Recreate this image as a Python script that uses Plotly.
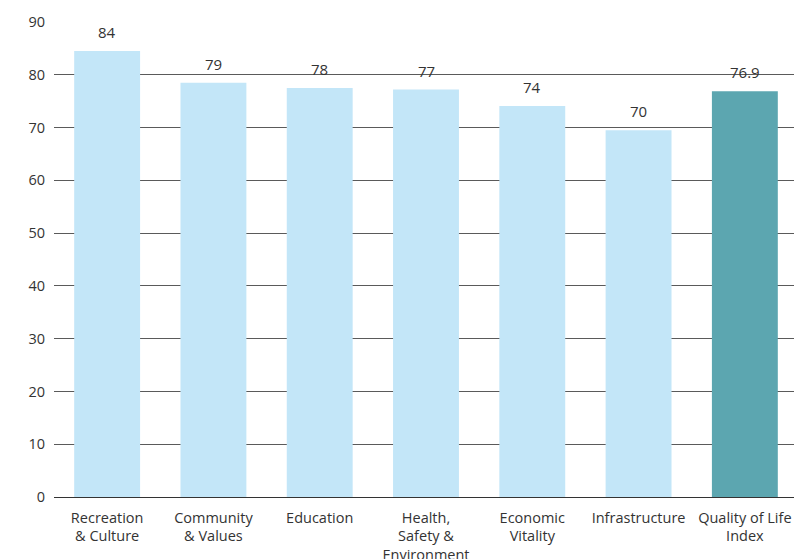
import plotly.graph_objects as go

categories = ["Recreation<br>& Culture", "Community<br>& Values", "Education",
              "Health,<br>Safety &<br>Environment", "Economic<br>Vitality",
              "Infrastructure", "Quality of Life<br>Index"]
values = [84.5, 78.5, 77.5, 77.2, 74.1, 69.5, 76.9]
value_labels = ["84", "79", "78", "77", "74", "70", "76.9"]
colors = ["#c3e6f8"] * 6 + ["#5ca6b0"]

fig = go.Figure(go.Bar(
    x=categories, y=values, cliponaxis=False,
    marker=dict(color=colors, line=dict(width=0)),
    hovertemplate="%{x}: %{y}<extra></extra>",
))
for c, v, t in zip(categories, values, value_labels):
    fig.add_annotation(x=c, y=v, text=t, showarrow=False, yanchor="middle",
                       yshift=19, font=dict(size=15, color="#333333"))
fig.update_layout(
    width=794, height=551,
    margin=dict(l=46, r=4, t=14, b=62, autoexpand=False),
    plot_bgcolor="white", paper_bgcolor="white",
    font=dict(family="Open Sans", size=14, color="#333333"),
    bargap=0.38, showlegend=False,
    xaxis=dict(showgrid=False, tickfont=dict(size=14.5), showline=False,
               ticklabelstandoff=10, automargin=False),
    yaxis=dict(range=[0, 90], dtick=10, showgrid=True, gridcolor="#5a5a5a",
               gridwidth=1, zeroline=True, zerolinecolor="#333333", zerolinewidth=1,
               tickfont=dict(size=14.5), ticklabelstandoff=8, automargin=False),
)
fig.write_html("out.html")
